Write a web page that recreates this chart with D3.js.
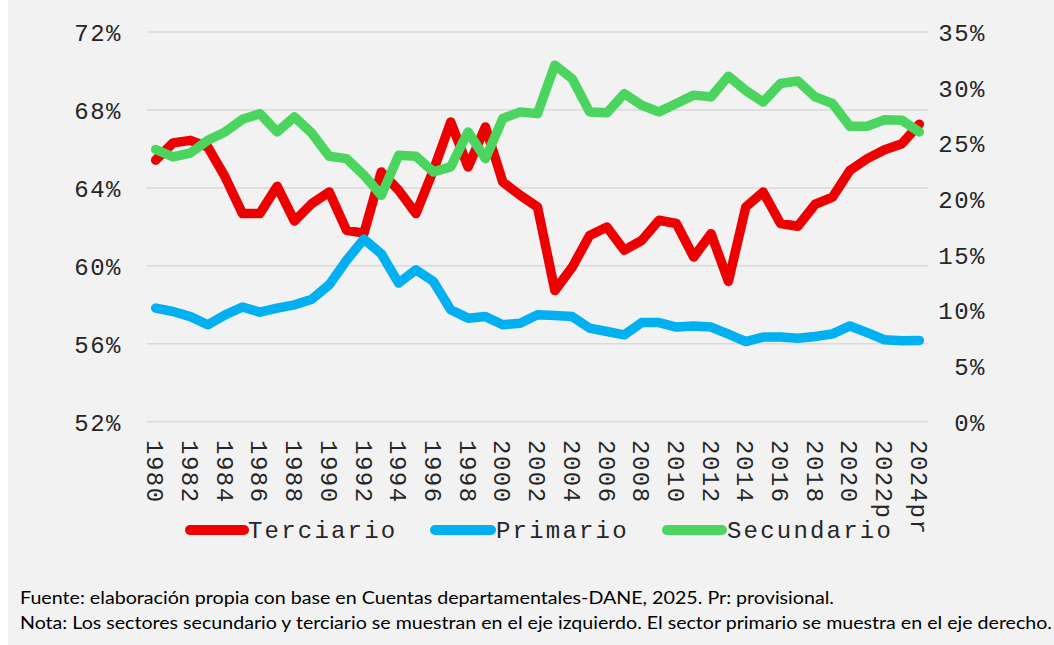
<!DOCTYPE html>
<html>
<head>
<meta charset="utf-8">
<script src="https://cdn.jsdelivr.net/npm/d3@7/dist/d3.min.js"></script>
<style>
html,body{margin:0;padding:0;background:#ffffff;}
svg{display:block;}
</style>
</head>
<body>
<svg id="chart" width="1054" height="645"></svg>
<script>
const years = ["1980","1981","1982","1983","1984","1985","1986","1987","1988","1989",
"1990","1991","1992","1993","1994","1995","1996","1997","1998","1999",
"2000","2001","2002","2003","2004","2005","2006","2007","2008","2009",
"2010","2011","2012","2013","2014","2015","2016","2017","2018","2019",
"2020","2021","2022p","2023p","2024pr"];

const terciario = [65.42,66.31,66.44,66.1,64.56,62.68,62.68,64.08,62.3,63.2,
63.79,61.82,61.68,64.82,63.88,62.68,64.9,67.38,65.07,67.13,
64.3,63.62,63.02,58.73,59.93,61.56,61.99,60.8,61.3,62.34,
62.17,60.45,61.65,59.2,63.02,63.79,62.17,62.03,63.16,63.53,
64.9,65.5,65.96,66.27,67.27];

const primario = [10.2,9.9,9.44,8.7,9.6,10.3,9.84,10.2,10.5,11.0,
12.3,14.5,16.4,15.08,12.45,13.64,12.6,10.05,9.3,9.44,
8.7,8.85,9.6,9.53,9.44,8.4,8.1,7.8,8.9,8.9,
8.5,8.6,8.5,7.86,7.2,7.6,7.6,7.5,7.65,7.89,
8.6,8.0,7.35,7.26,7.3];

const secundario = [65.97,65.59,65.79,66.44,66.87,67.52,67.81,66.87,67.64,66.8,
65.62,65.5,64.65,63.62,65.67,65.62,64.82,65.08,66.87,65.5,
67.56,67.9,67.81,70.3,69.6,67.9,67.85,68.84,68.24,67.9,
68.33,68.76,68.67,69.73,69.0,68.41,69.36,69.49,68.67,68.33,
67.16,67.16,67.5,67.47,66.87];

const leftTicks = [52,56,60,64,68,72];
const rightTicks = [0,5,10,15,20,25,30,35];
const seriesNames = ["Terciario","Primario","Secundario"];
const seriesColors = ["#ee0000","#00b0f0","#4bd55e"];
const notes = [
 "Fuente: elaboración propia con base en Cuentas departamentales-DANE, 2025. Pr: provisional.",
 "Nota: Los sectores secundario y terciario se muestran en el eje izquierdo. El sector primario se muestra en el eje derecho."
];

const svg = d3.select("#chart");
const W = 1054, H = 645;
const plot = {left:147, right:928, top:32, bottom:421.7};

svg.append("rect").attr("x",8).attr("y",0).attr("width",W-8).attr("height",H).attr("fill","#f2f2f2");

const x = d3.scaleBand().domain(years).range([plot.left, plot.right]);
const cx = d => x(d) + x.bandwidth()/2;
const yL = d3.scaleLinear().domain([52,72]).range([plot.bottom, plot.top]);
const yR = d3.scaleLinear().domain([0,35]).range([plot.bottom, plot.top]);

const monoFont = "'Liberation Mono','Courier New',monospace";

// gridlines
svg.append("g").selectAll("line").data(leftTicks).join("line")
  .attr("x1",plot.left).attr("x2",plot.right)
  .attr("y1",d=>yL(d)).attr("y2",d=>yL(d))
  .attr("stroke","#d9d9d9").attr("stroke-width",1.5);

// left axis
const axL = d3.axisLeft(yL).tickValues(leftTicks).tickSize(0).tickPadding(0).tickFormat(d=>d+"%");
const gL = svg.append("g").attr("transform",`translate(122,0)`).call(axL);
gL.select(".domain").remove();
gL.selectAll("text").attr("font-family",monoFont).attr("font-size",24).attr("letter-spacing","1.5px")
  .attr("fill","#262626").attr("dy","0.35em");

// right axis
const axR = d3.axisRight(yR).tickValues(rightTicks).tickSize(0).tickPadding(0).tickFormat(d=>d+"%");
const gR = svg.append("g").attr("transform",`translate(986,0)`).call(axR);
gR.select(".domain").remove();
gR.selectAll("text").attr("font-family",monoFont).attr("font-size",24).attr("letter-spacing","1.5px")
  .attr("fill","#262626").attr("text-anchor","end").attr("dy","0.35em");

// x axis labels
const axX = d3.axisBottom(x).tickValues(years.filter((d,i)=>i%2===0)).tickSize(0).tickPadding(0);
const gX = svg.append("g").attr("transform",`translate(0,440)`).call(axX);
gX.select(".domain").remove();
gX.selectAll("text").attr("font-family",monoFont).attr("font-size",24).attr("letter-spacing","1.5px")
  .attr("fill","#262626").attr("text-anchor","start").attr("y",0).attr("dy","0.35em")
  .attr("transform","rotate(90)");

// lines
const dataSets = [
  {vals:terciario, y:yL},
  {vals:primario, y:yR},
  {vals:secundario, y:yL}
];
dataSets.forEach((s,k)=>{
  const line = d3.line().x((d,i)=>cx(years[i])).y(d=>s.y(d));
  svg.append("path").attr("d",line(s.vals)).attr("fill","none")
    .attr("stroke",seriesColors[k]).attr("stroke-width",9.5)
    .attr("stroke-linejoin","round").attr("stroke-linecap","round");
});

// legend
const legendItems = [
  {x1:190,x2:244,tx:248},
  {x1:435,x2:491,tx:496},
  {x1:667,x2:722,tx:727}
];
legendItems.forEach((l,k)=>{
  svg.append("line").attr("x1",l.x1).attr("x2",l.x2).attr("y1",530).attr("y2",530)
    .attr("stroke",seriesColors[k]).attr("stroke-width",10).attr("stroke-linecap","round");
  svg.append("text").attr("x",l.tx).attr("y",530).attr("dy","0.35em")
    .attr("font-family",monoFont).attr("font-size",24).attr("letter-spacing","2.2px")
    .attr("fill","#262626").text(seriesNames[k]);
});

// notes
svg.append("text").attr("x",20).attr("y",604).attr("font-family","Lato,'Open Sans',sans-serif")
  .attr("font-size",17).attr("fill","#000").attr("textLength",814).attr("lengthAdjust","spacingAndGlyphs").text(notes[0]);
svg.append("text").attr("x",20).attr("y",629).attr("font-family","Lato,'Open Sans',sans-serif")
  .attr("font-size",17).attr("fill","#000").attr("textLength",1032).attr("lengthAdjust","spacingAndGlyphs").text(notes[1]);
</script>
</body>
</html>
